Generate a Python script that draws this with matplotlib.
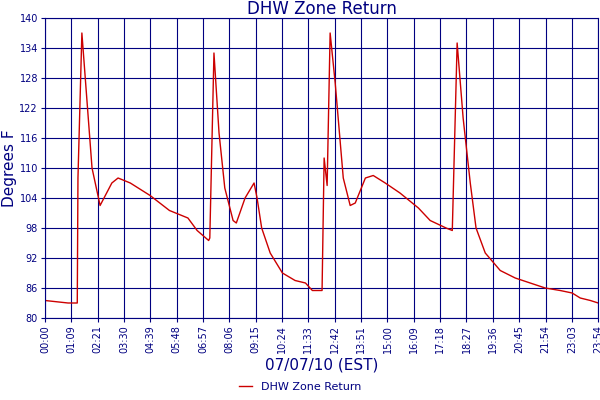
import matplotlib
matplotlib.use('Agg')
import matplotlib.pyplot as plt

# time in hours, temperature in degrees F
hours = [0, 1.0, 1.4, 1.43, 1.6, 2.04, 2.39, 2.9, 3.17, 3.7, 4.56, 5.4, 6.2, 6.6, 7.1, 7.15,
         7.33, 7.55, 7.8, 8.16, 8.3, 8.68, 9.07, 9.2, 9.4, 9.77, 10.3, 10.85, 11.3, 11.6,
         12.02, 12.11, 12.24, 12.37, 12.59, 12.94, 13.24, 13.46, 13.9, 14.24, 14.76, 15.4,
         16.2, 16.71, 17.4, 17.67, 17.88, 18.14, 18.45, 18.7, 19.1, 19.75, 20.4, 21.05,
         21.7, 22.35, 22.87, 23.22, 23.66, 24.0]
temps = [83.5, 83, 83, 108, 137, 110, 102.5, 107, 108, 107, 104.5, 101.5, 100, 97.5, 95.5, 96,
         133, 117, 106, 99.5, 99, 104, 107, 104, 98, 93, 89, 87.5, 87, 85.5,
         85.5, 112, 106.5, 137, 127, 108, 102.5, 103, 108, 108.5, 107, 105,
         102, 99.5, 98, 97.5, 135, 120, 107, 98, 93, 89.5, 88, 87,
         86, 85.5, 85, 84, 83.5, 83]
tick_labels = ['00:00', '01:09', '02:21', '03:30', '04:39', '05:48', '06:57', '08:06', '09:15',
               '10:24', '11:33', '12:42', '13:51', '15:00', '16:09', '17:18', '18:27', '19:36',
               '20:45', '21:54', '23:03', '23:54']
yticks = [80, 86, 92, 98, 104, 110, 116, 122, 128, 134, 140]

navy = '#000080'
fig = plt.figure(figsize=(6, 4), dpi=100)
ax = fig.add_axes([0.075, 0.205, 0.922, 0.75])
ax.plot(hours, temps, color='#cc0000', lw=1, label='DHW Zone Return')
ax.set_xlim(0, 24)
ax.set_ylim(80, 140)
ax.set_xticks([i * 24 / 21 for i in range(22)])
ax.set_xticklabels(tick_labels, rotation=90, fontsize=7, color=navy)
ax.set_yticks(yticks)
ax.set_yticklabels(yticks, fontsize=7, color=navy)
ax.tick_params(length=3, color=navy, pad=2)
ax.grid(True, color=navy, lw=0.8)
for s in ax.spines.values():
    s.set_color(navy)
ax.set_title('DHW Zone Return', color=navy, fontsize=12, pad=2)
ax.set_ylabel('Degrees F', color=navy, fontsize=11, labelpad=2)
ax.set_xlabel('07/07/10 (EST)', color=navy, fontsize=11, labelpad=3)
leg = fig.legend(loc='lower center', bbox_to_anchor=(0.5, -0.005), frameon=False, fontsize=8,
                 handlelength=1.2)
for t in leg.get_texts():
    t.set_color(navy)
fig.savefig('out.png')
